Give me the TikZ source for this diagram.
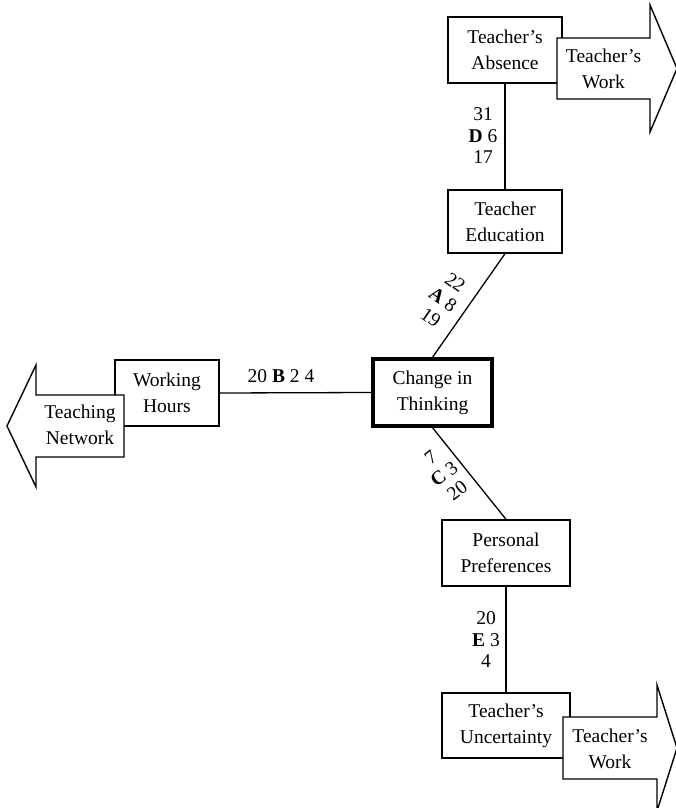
\documentclass[tikz,border=0pt]{standalone}
\usepackage{fontspec}
\setmainfont{Liberation Serif}
\begin{document}
\begin{tikzpicture}[x=1pt,y=-1pt,
  txt/.style={font=\fontsize{19.5}{26}\selectfont, align=center, inner sep=0pt},
  box/.style={txt, draw, line width=1.4pt, fill=white},
  mainbox/.style={box, line width=3.4pt},
  lbl/.style={font=\fontsize{19.5}{21.5}\selectfont, align=center, inner sep=0pt},
  link/.style={line width=1.3pt},
  bigarrow/.style={draw, line width=1.4pt, fill=white, line join=miter}]
\useasboundingbox (0,0) rectangle (676,808);

% boxes
\node[box, minimum width=114pt, minimum height=66pt] (abs) at (505,50) {Teacher’s\\Absence};
\node[box, minimum width=114pt, minimum height=63pt] (edu) at (505,221.5) {Teacher\\Education};
\node[mainbox, minimum width=119pt, minimum height=67pt] (chg) at (432.5,392.5) {Change in\\Thinking};
\node[box, minimum width=104pt, minimum height=66pt] (wrk) at (167,393) {Working\\Hours};
\node[box, minimum width=128pt, minimum height=66pt] (pref) at (506,553) {Personal\\Preferences};
\node[box, minimum width=128pt, minimum height=65pt] (unc) at (506,725.5) {Teacher’s\\Uncertainty};

% connectors
\draw[link] (abs.south) -- (edu.north);
\draw[link] (edu.south) -- (chg.north);
\draw[link] (wrk.east) -- (chg.west);
\draw[link] (chg.south) -- (pref.north);
\draw[link] (pref.south) -- (unc.north);

% connector labels
\node[lbl] (dlab) at (483,136) {31\\\textbf{D} 6\\17};
\node[lbl, rotate=-35] (alab) at (443,300) {22\\\textbf{A} 8\\19};
\node[lbl] (blab) at (281,376) {20 \textbf{B} 2 4};
\node[lbl, rotate=38] (clab) at (444,474) {7\\\textbf{C} 3\\20};
\node[lbl] (elab) at (486,640) {20\\\textbf{E} 3\\4};

% block arrows
\draw[bigarrow] (557,38) -- (650,38) -- (650,5) -- (677,68.5) -- (650,132) -- (650,99) -- (557,99) -- cycle;
\node[txt] (work1) at (603.5,69) {Teacher’s\\Work};

\draw[bigarrow] (124,395) -- (36,395) -- (36,365) -- (7,426) -- (36,487) -- (36,457) -- (124,457) -- cycle;
\node[txt] (net) at (80,425) {Teaching\\Network};

\draw[bigarrow] (563,717) -- (657,717) -- (657,685) -- (677,748) -- (657,811) -- (657,779) -- (563,779) -- cycle;
\node[txt] (work2) at (610,749) {Teacher’s\\Work};
\end{tikzpicture}
\end{document}
